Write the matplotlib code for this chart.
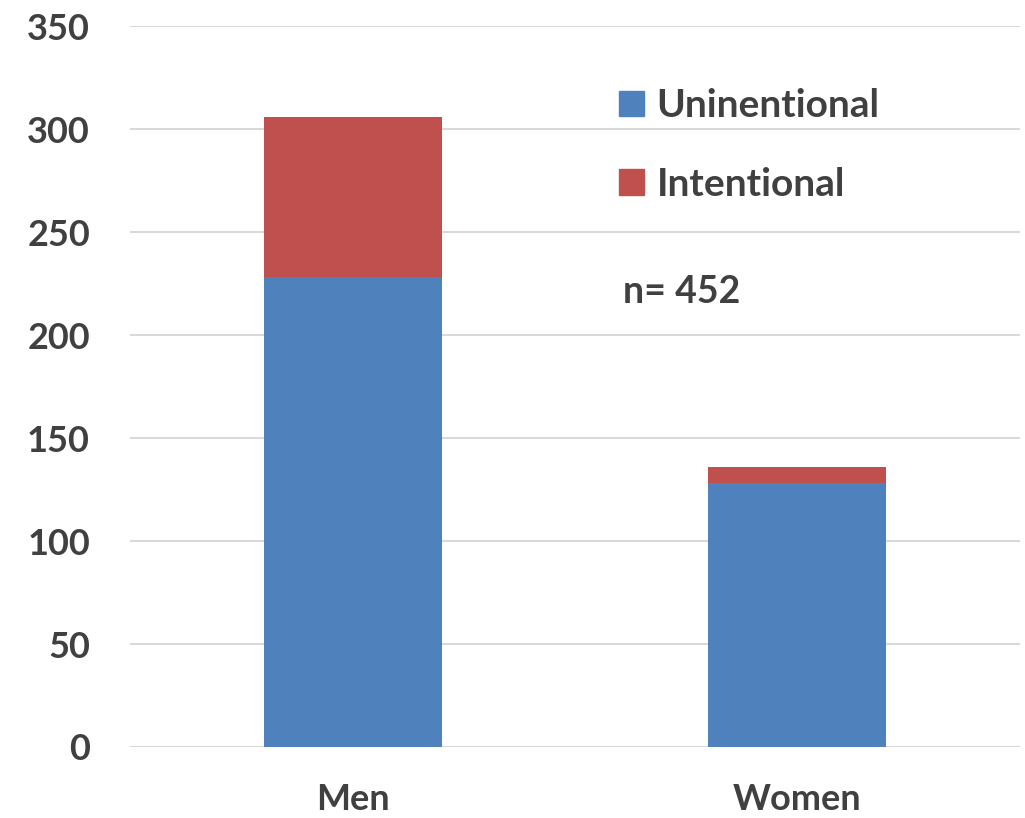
import matplotlib
matplotlib.use("Agg")
import matplotlib.pyplot as plt
from matplotlib.patches import Patch

categories = ["Men", "Women"]
unintentional = [228, 128]
intentional = [78, 8]
series_labels = ["Uninentional", "Intentional"]
y_ticks = [0, 50, 100, 150, 200, 250, 300, 350]
sample_note = "n= 452"

blue = "#4f81bd"
red = "#c0504d"
text_color = "#404040"
font = ["Lato", "DejaVu Sans"]

plt.rcParams["font.family"] = font
plt.rcParams["font.weight"] = "bold"

fig = plt.figure(figsize=(10.25, 8.18), dpi=100)
ax = fig.add_axes([0.127, 0.0868, 0.868, 0.8812])

x = list(range(len(categories)))
ax.bar(x, unintentional, width=0.4, color=blue, zorder=3)
ax.bar(x, intentional, width=0.4, bottom=unintentional, color=red, zorder=3)

ax.set_xlim(-0.5, 1.5)
ax.set_ylim(0, 350)
ax.set_yticks(y_ticks)
ax.set_xticks(x)
ax.set_xticklabels(categories)
ax.yaxis.grid(True, color="#d9d9d9", linewidth=1.5, zorder=0)
ax.set_axisbelow(True)
for s in ax.spines.values():
    s.set_visible(False)
ax.tick_params(axis="both", length=0, colors=text_color, labelsize=26)
ax.tick_params(axis="y", pad=29)
ax.tick_params(axis="x", pad=26)
for lbl in ax.get_xticklabels() + ax.get_yticklabels():
    lbl.set_fontweight("bold")

handles = [Patch(color=blue), Patch(color=red)]
leg = ax.legend(handles, series_labels, loc="upper left",
                bbox_to_anchor=(0.570, 0.935), bbox_transform=fig.transFigure,
                frameon=False, handlelength=0.64, handleheight=0.64,
                handletextpad=0.32, labelspacing=1.12,
                prop={"family": font, "weight": "bold", "size": 28})
for t in leg.get_texts():
    t.set_color(text_color)

fig.text(0.608, 0.643, sample_note, color=text_color, fontsize=27,
         fontweight="bold", va="center", ha="left")

fig.savefig("out.png", dpi=100, facecolor="white")
